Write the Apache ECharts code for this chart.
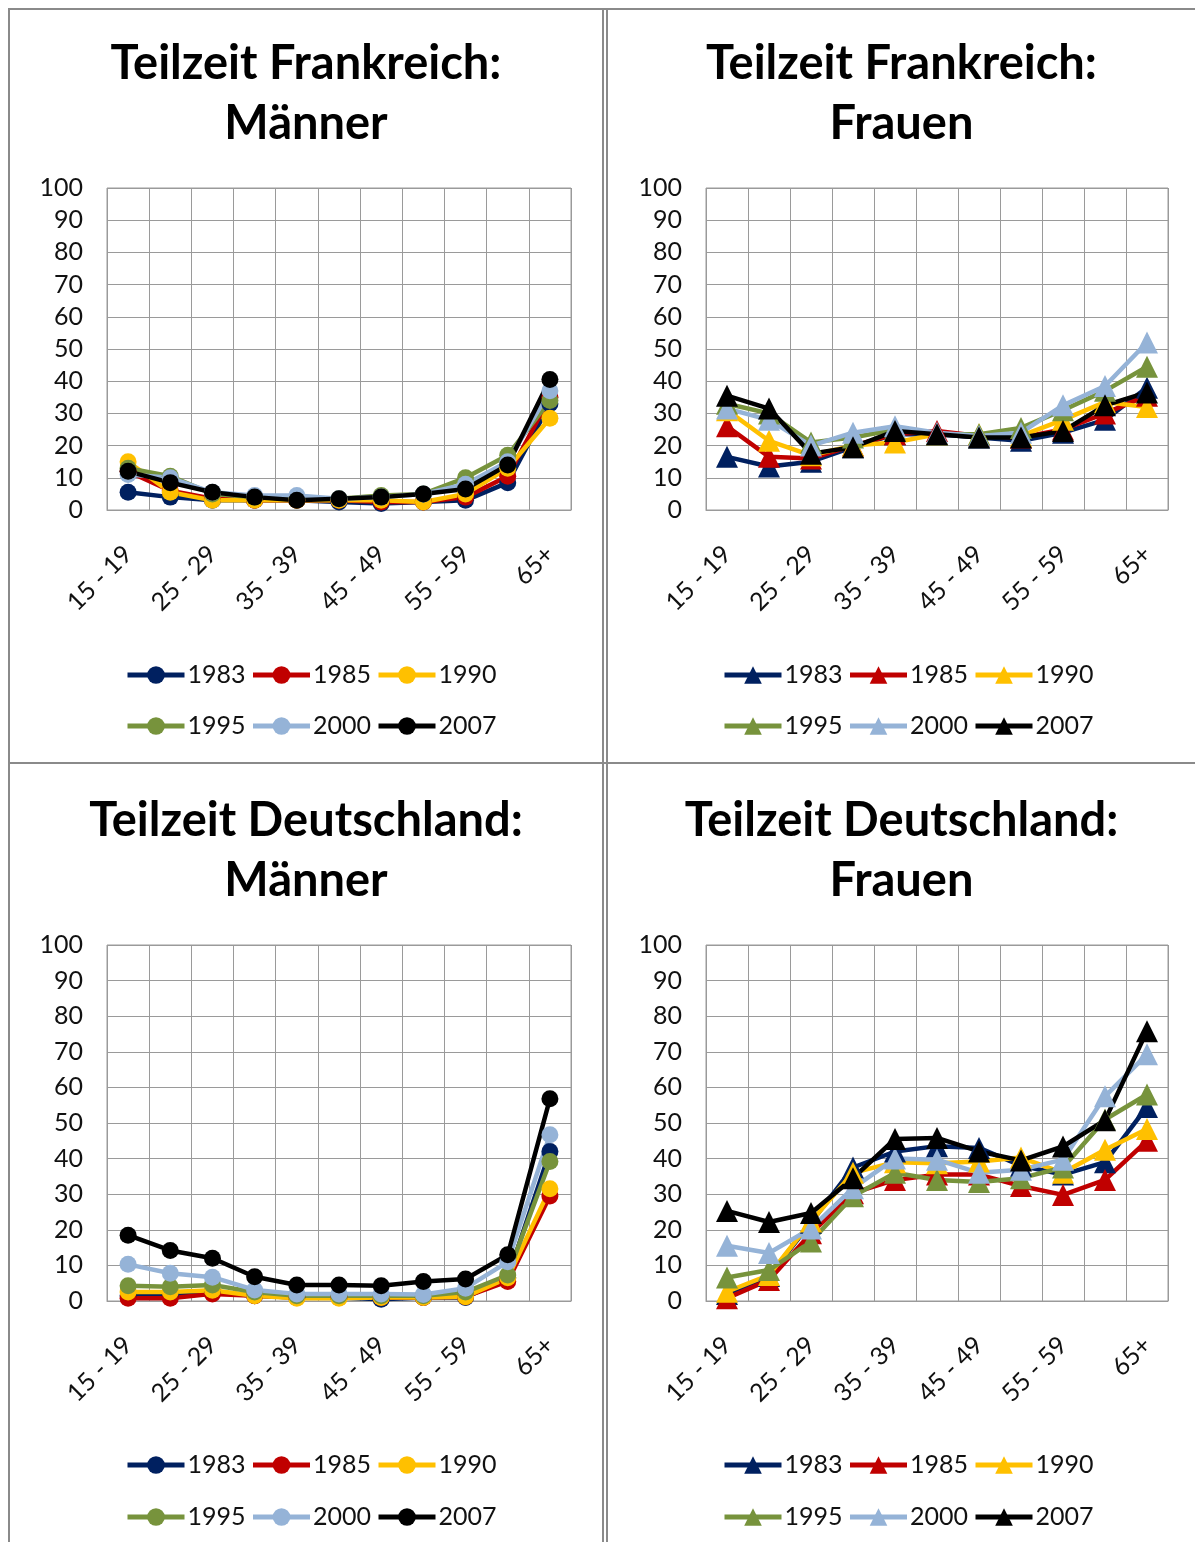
<!DOCTYPE html>
<html>
<head>
<meta charset="utf-8">
<script src="https://cdn.jsdelivr.net/npm/echarts@6/dist/echarts.min.js"></script>
<style>
  body { margin: 0; background: #fff; width: 1195px; height: 1542px; position: relative; overflow: hidden; }
  .rule { position: absolute; background: #8a8a8a; }
  .chart { position: absolute; }
</style>
</head>
<body>
<!-- panel frame lines -->
<div class="rule" style="left:8px;top:8px;width:1187px;height:2px"></div>
<div class="rule" style="left:8px;top:8px;width:2px;height:1534px"></div>
<div class="rule" style="left:602px;top:8px;width:2px;height:1534px"></div>
<div class="rule" style="left:606px;top:8px;width:2px;height:1534px"></div>
<div class="rule" style="left:8px;top:762px;width:1187px;height:2px"></div>

<div id="frM" class="chart" style="left:10px;top:10px;width:592px;height:752px"></div>
<div id="frF" class="chart" style="left:608px;top:10px;width:587px;height:752px"></div>
<div id="deM" class="chart" style="left:10px;top:764px;width:592px;height:778px"></div>
<div id="deF" class="chart" style="left:608px;top:764px;width:587px;height:778px"></div>

<script>
// ---------------------------------------------------------------------------
// Data (part-time share in %, by age group), one row per survey year
// ---------------------------------------------------------------------------
const ageGroups = ['15 - 19', '20 - 24', '25 - 29', '30 - 34', '35 - 39', '40 - 44',
  '45 - 49', '50 - 54', '55 - 59', '60 - 64', '65+'];
const years = ['1983', '1985', '1990', '1995', '2000', '2007'];
const yearColors = ['#002060', '#C00000', '#FFC000', '#77933C', '#95B3D7', '#000000'];
const yTicks = { min: 0, max: 100, step: 10 };

// Teilzeit Frankreich: Männer
const frankreichMaenner = [
  [5.5, 4, 3, 3, 3, 2.5, 2, 2.5, 3, 8.5, 33],
  [12, 6, 3.5, 3, 3, 3, 2.5, 2.5, 4, 10.5, 35],
  [15, 5.5, 3, 3, 3, 3, 3, 2.5, 5, 13, 28.5],
  [13, 10.5, 5, 4, 3.5, 3.5, 4.5, 5, 10, 17, 34],
  [11, 10, 5.5, 4.5, 4.5, 3.5, 4, 5, 8, 15, 37],
  [12, 8.5, 5.5, 4, 3, 3.5, 4, 5, 6.5, 14, 40.5]
];
// Teilzeit Frankreich: Frauen
const frankreichFrauen = [
  [16.5, 13.5, 15, 19.5, 23.5, 23.5, 22.5, 21.5, 24, 28, 38],
  [26, 16.5, 16, 20, 23.5, 24.5, 23, 22.5, 25, 30, 35.5],
  [31, 21.5, 17, 20, 21, 23.5, 23.5, 23, 28, 33.5, 32],
  [33, 30, 21, 22.5, 25, 23.5, 23.5, 25.5, 31, 37, 44.5],
  [31.5, 28, 20, 24, 26, 24, 23, 24, 32.5, 38.5, 52],
  [35.5, 31.5, 17.5, 19.5, 24.5, 23.5, 22.5, 22.5, 24.5, 32.5, 36.5]
];
// Teilzeit Deutschland: Männer
const deutschlandMaenner = [
  [1.5, 1.5, 2.5, 1.5, 1, 1, 0.5, 1, 1, 6.5, 42],
  [0.8, 0.8, 2, 1.5, 1, 1, 1, 1, 1.2, 5.5, 29.5],
  [2.5, 2.5, 3, 1.5, 0.8, 0.8, 1, 1, 1.2, 6.5, 31.5],
  [4.3, 4, 4.5, 2.5, 1.5, 1.5, 1.5, 1.5, 2.5, 7.3, 39.2],
  [10.3, 7.8, 6.7, 3.1, 2, 2, 2, 1.8, 3.6, 11, 46.7],
  [18.5, 14.2, 12, 6.8, 4.5, 4.5, 4.3, 5.5, 6.2, 13, 56.8]
];
// Teilzeit Deutschland: Frauen
const deutschlandFrauen = [
  [2, 7, 22, 37.5, 42, 43.5, 43, 38, 35.5, 39, 54.5],
  [0.8, 5.9, 19, 30.3, 34, 35.5, 35.5, 32.3, 29.8, 34, 45],
  [2.6, 7.3, 22.3, 36, 39, 38.7, 39.2, 40.3, 36, 42.5, 48.3],
  [6.6, 8.7, 16.7, 29.4, 36, 34, 33.4, 34.5, 37.5, 51, 58],
  [15.5, 13.5, 20.4, 31.7, 40, 39.7, 36, 36.9, 39.7, 57.5, 69.3],
  [25.3, 22.2, 24.7, 34.5, 45.5, 45.8, 42, 39.5, 43.4, 50.8, 75.8]
];

const FONT = 'Lato';
const TEXT = '#111';
const GRID = '#9a9a9a';

function makeChart(domId, title, rows, symbol, layout) {
  const chart = echarts.init(document.getElementById(domId), null, { renderer: 'canvas' });
  const symbolSize = symbol === 'circle' ? 17 : 22;

  const series = rows.map((vals, i) => ({
    name: years[i],
    type: 'line',
    data: vals,
    symbol: symbol,
    symbolSize: symbolSize,
    showAllSymbol: true,
    animation: false,
    itemStyle: { color: yearColors[i] },
    lineStyle: { color: yearColors[i], width: 4.5 },
    emphasis: { disabled: true }
  }));

  // two legend rows of three years each, as in the original layout
  const legendBase = {
    left: layout.legendLeft,
    orient: 'horizontal',
    padding: 0,
    itemWidth: 57,
    itemHeight: 22,
    itemGap: 5,
    selectedMode: false,
    lineStyle: { width: 5 },
    textStyle: { fontFamily: FONT, fontSize: 25, color: TEXT, lineHeight: 26, padding: [0, 0, 0, -2] }
  };

  chart.setOption({
    backgroundColor: 'transparent',
    animation: false,
    title: {
      text: title,
      left: 'center',
      top: layout.titleTop,
      textStyle: { fontFamily: FONT, fontWeight: 'bold', fontSize: 47, lineHeight: 60, color: '#000' }
    },
    legend: [
      Object.assign({ top: layout.legendTop1, data: years.slice(0, 3) }, legendBase),
      Object.assign({ top: layout.legendTop2, data: years.slice(3) }, legendBase)
    ],
    grid: {
      left: layout.gridLeft,
      top: layout.gridTop,
      width: layout.gridWidth,
      height: layout.gridHeight,
      show: true,
      borderColor: GRID,
      borderWidth: 1
    },
    xAxis: {
      type: 'category',
      data: ageGroups,
      boundaryGap: true,
      axisLine: { show: true, lineStyle: { color: GRID, width: 1 } },
      axisTick: { show: false },
      splitLine: { show: true, interval: 0, lineStyle: { color: GRID, width: 1 } },
      axisLabel: {
        interval: 1,
        rotate: 45,
        margin: 40,
        fontFamily: FONT,
        fontSize: 25,
        color: TEXT
      }
    },
    yAxis: {
      type: 'value',
      min: yTicks.min,
      max: yTicks.max,
      interval: yTicks.step,
      axisLine: { show: false },
      axisTick: { show: false },
      splitLine: { show: true, lineStyle: { color: GRID, width: 1 } },
      axisLabel: { margin: 24, fontFamily: FONT, fontSize: 25, color: TEXT }
    },
    series: series
  });
}

makeChart('frM', 'Teilzeit Frankreich:\nMänner', frankreichMaenner, 'circle', {
  titleTop: 19, legendTop1: 652, legendTop2: 703, legendLeft: 115,
  gridLeft: 97, gridTop: 178, gridWidth: 464, gridHeight: 322
});
makeChart('frF', 'Teilzeit Frankreich:\nFrauen', frankreichFrauen, 'triangle', {
  titleTop: 19, legendTop1: 652, legendTop2: 703, legendLeft: 114,
  gridLeft: 98, gridTop: 178, gridWidth: 462, gridHeight: 322
});
makeChart('deM', 'Teilzeit Deutschland:\nMänner', deutschlandMaenner, 'circle', {
  titleTop: 22, legendTop1: 688, legendTop2: 740, legendLeft: 115,
  gridLeft: 97, gridTop: 181, gridWidth: 464, gridHeight: 356
});
makeChart('deF', 'Teilzeit Deutschland:\nFrauen', deutschlandFrauen, 'triangle', {
  titleTop: 22, legendTop1: 688, legendTop2: 740, legendLeft: 114,
  gridLeft: 98, gridTop: 181, gridWidth: 462, gridHeight: 356
});
</script>
</body>
</html>
